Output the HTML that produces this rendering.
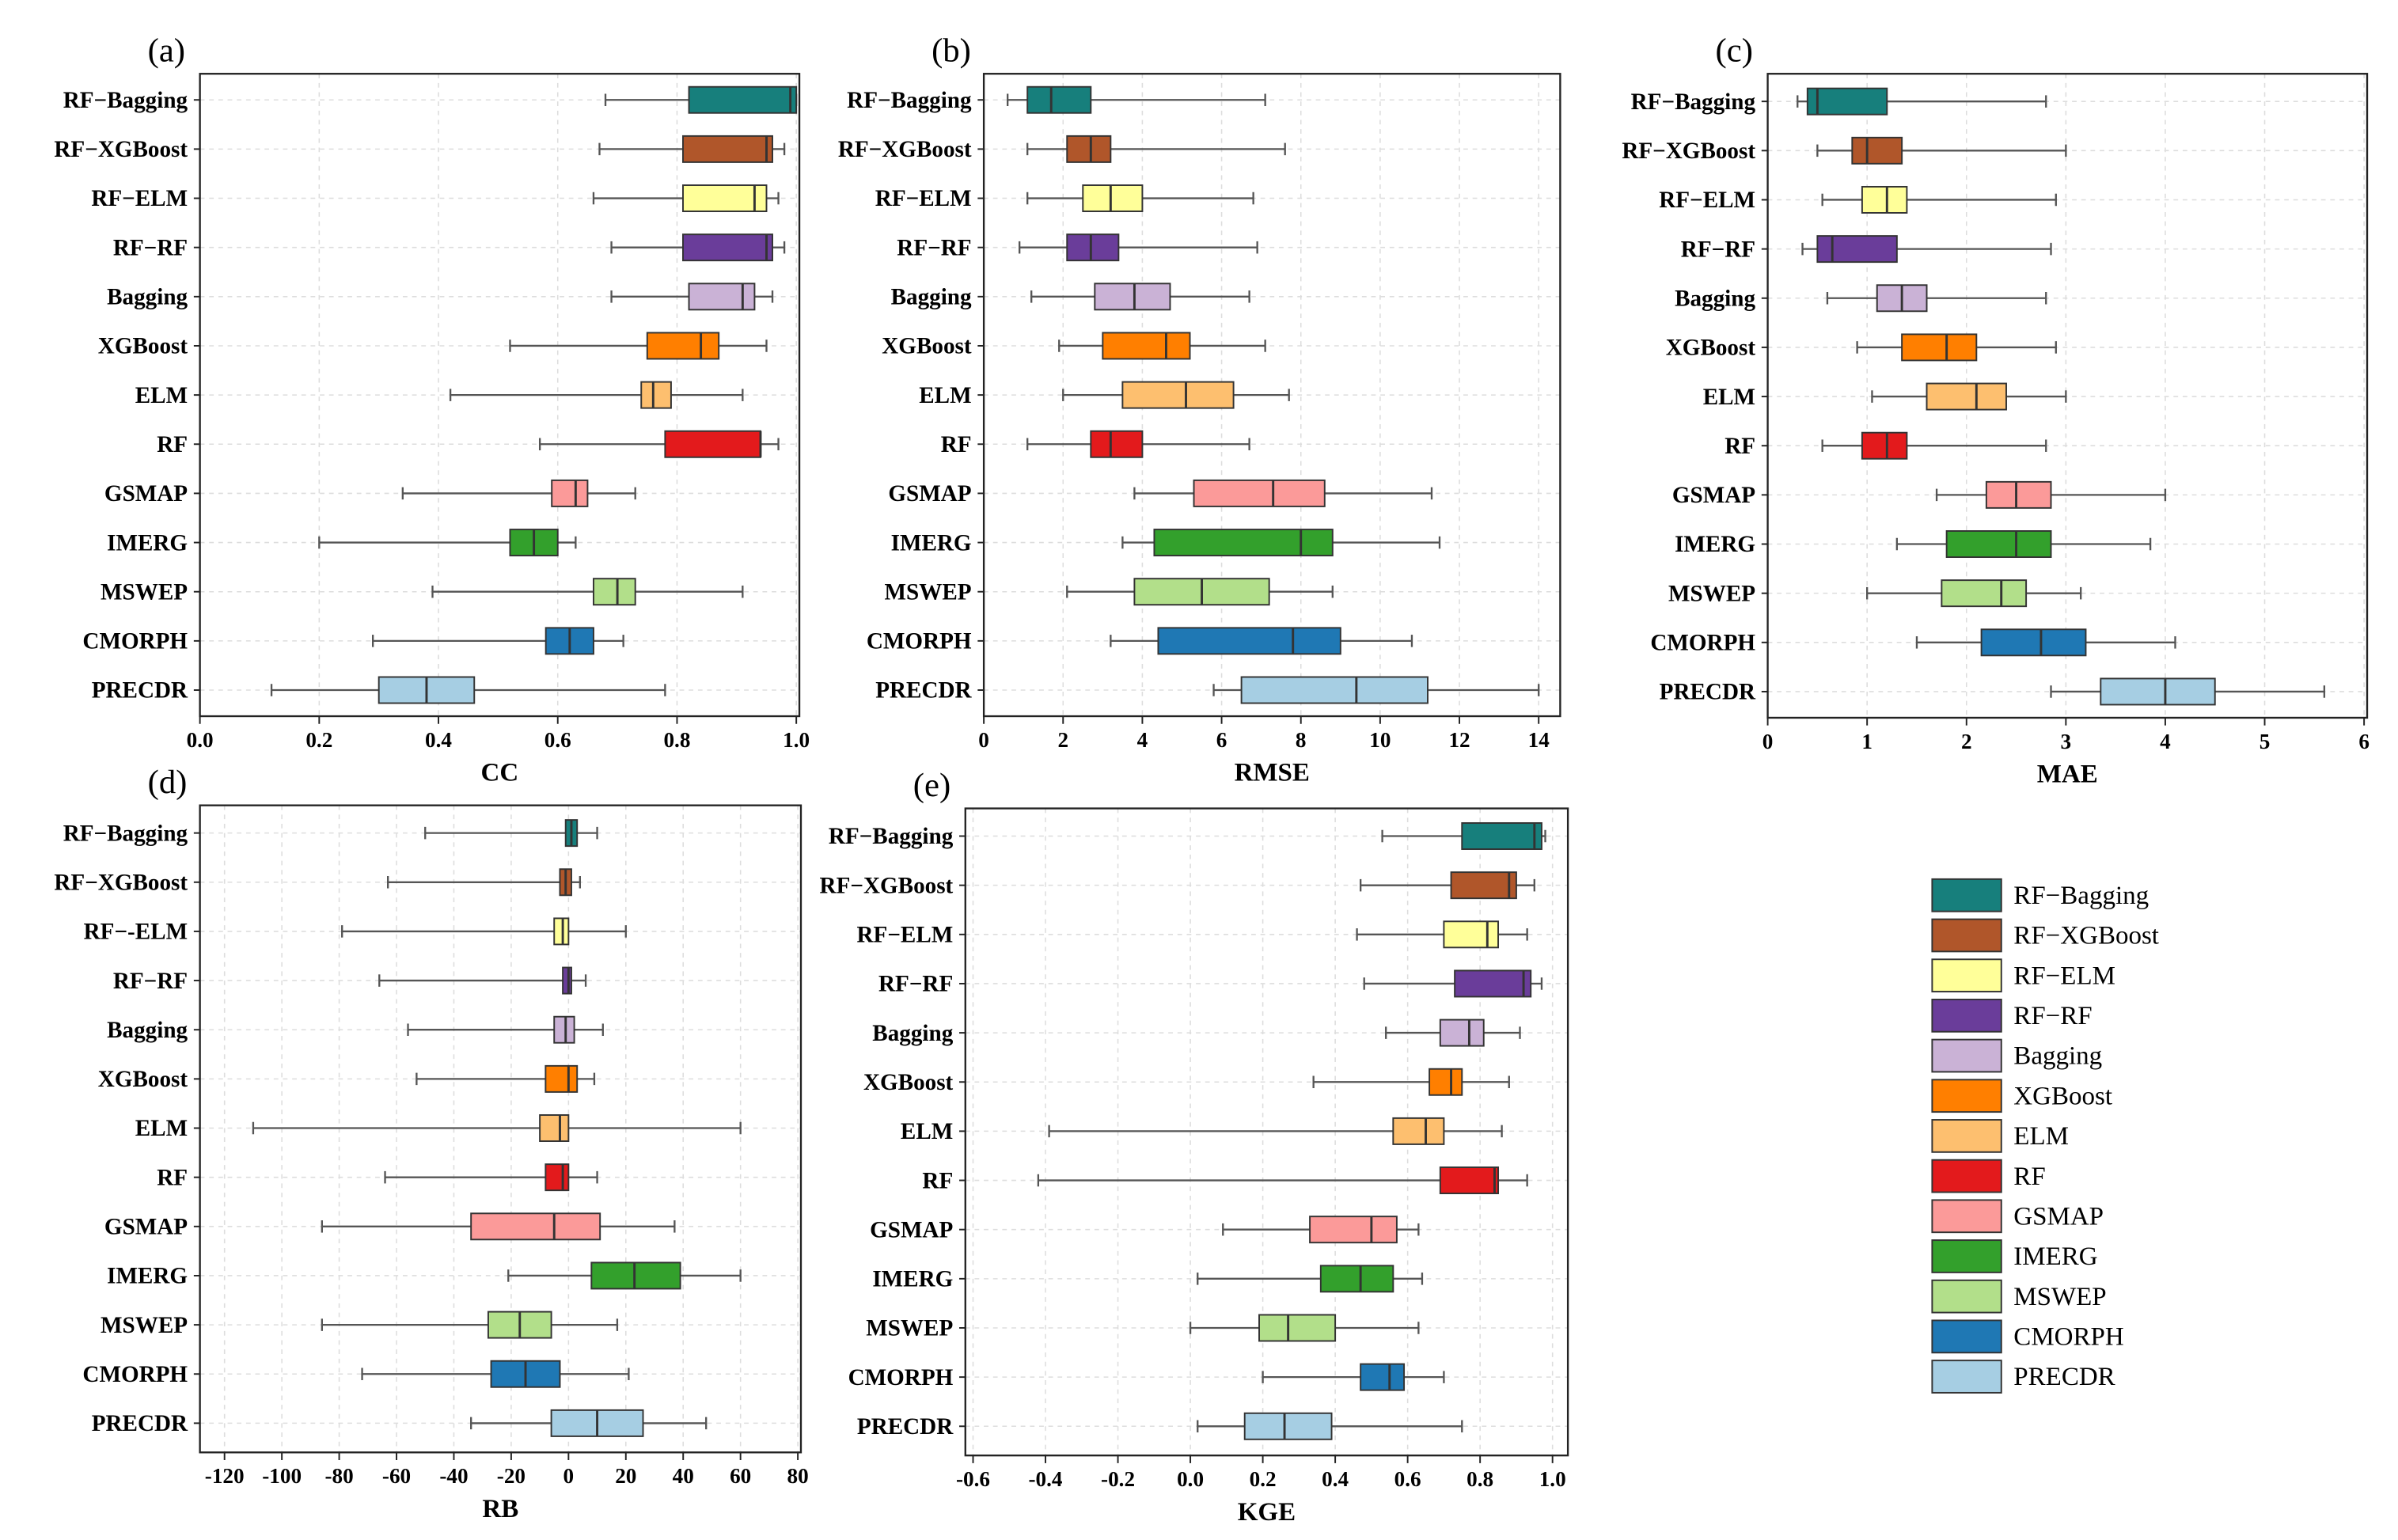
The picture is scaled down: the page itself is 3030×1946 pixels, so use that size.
<!DOCTYPE html>
<html><head><meta charset="utf-8">
<style>
html,body{margin:0;padding:0;background:#fff;}
svg{display:block;}
text{font-family:"Liberation Serif",serif;}
</style></head>
<body>
<svg id="chart" xmlns="http://www.w3.org/2000/svg" width="3030" height="1946" viewBox="0 0 1560 1002"></svg>
<script>
const categories = ["RF-Bagging","RF-XGBoost","RF-ELM","RF-RF","Bagging","XGBoost","ELM","RF","GSMAP","IMERG","MSWEP","CMORPH","PRECDR"];
const colors = ["#177f7c","#b0562a","#ffff99","#6a3d9a","#cab2d6","#ff7f00","#fdbf6f","#e31a1c","#fb9a99","#33a02c","#b2df8a","#1f78b4","#a6cee3"];
// [whiskerLow, q1, median, q3, whiskerHigh]
const ccValues = [[0.68,0.82,0.99,1.0,1.0],[0.67,0.81,0.95,0.96,0.98],[0.66,0.81,0.93,0.95,0.97],[0.69,0.81,0.95,0.96,0.98],[0.69,0.82,0.91,0.93,0.96],[0.52,0.75,0.84,0.87,0.95],[0.42,0.74,0.76,0.79,0.91],[0.57,0.78,0.94,0.94,0.97],[0.34,0.59,0.63,0.65,0.73],[0.20,0.52,0.56,0.60,0.63],[0.39,0.66,0.70,0.73,0.91],[0.29,0.58,0.62,0.66,0.71],[0.12,0.30,0.38,0.46,0.78]];
const rmseValues = [[0.6,1.1,1.7,2.7,7.1],[1.1,2.1,2.7,3.2,7.6],[1.1,2.5,3.2,4.0,6.8],[0.9,2.1,2.7,3.4,6.9],[1.2,2.8,3.8,4.7,6.7],[1.9,3.0,4.6,5.2,7.1],[2.0,3.5,5.1,6.3,7.7],[1.1,2.7,3.2,4.0,6.7],[3.8,5.3,7.3,8.6,11.3],[3.5,4.3,8.0,8.8,11.5],[2.1,3.8,5.5,7.2,8.8],[3.2,4.4,7.8,9.0,10.8],[5.8,6.5,9.4,11.2,14.0]];
const maeValues = [[0.3,0.4,0.5,1.2,2.8],[0.5,0.85,1.0,1.35,3.0],[0.55,0.95,1.2,1.4,2.9],[0.35,0.5,0.65,1.3,2.85],[0.6,1.1,1.35,1.6,2.8],[0.9,1.35,1.8,2.1,2.9],[1.05,1.6,2.1,2.4,3.0],[0.55,0.95,1.2,1.4,2.8],[1.7,2.2,2.5,2.85,4.0],[1.3,1.8,2.5,2.85,3.85],[1.0,1.75,2.35,2.6,3.15],[1.5,2.15,2.75,3.2,4.1],[2.85,3.35,4.0,4.5,5.6]];
const rbValues = [[-50,-1,1,3,10],[-63,-3,-1,1,4],[-79,-5,-2,0,20],[-66,-2,0,1,6],[-56,-5,-1,2,12],[-53,-8,0,3,9],[-110,-10,-3,0,60],[-64,-8,-2,0,10],[-86,-34,-5,11,37],[-21,8,23,39,60],[-86,-28,-17,-6,17],[-72,-27,-15,-3,21],[-34,-6,10,26,48]];
const kgeValues = [[0.53,0.75,0.95,0.97,0.98],[0.47,0.72,0.88,0.9,0.95],[0.46,0.70,0.82,0.85,0.93],[0.48,0.73,0.92,0.94,0.97],[0.54,0.69,0.77,0.81,0.91],[0.34,0.66,0.72,0.75,0.88],[-0.39,0.56,0.65,0.70,0.86],[-0.42,0.69,0.84,0.85,0.93],[0.09,0.33,0.50,0.57,0.63],[0.02,0.36,0.47,0.56,0.64],[0.00,0.19,0.27,0.40,0.63],[0.20,0.47,0.55,0.59,0.70],[0.02,0.15,0.26,0.39,0.75]];
const ccTicks = [0,0.2,0.4,0.6,0.8,1.0];
const ccTickLabels = ["0.0","0.2","0.4","0.6","0.8","1.0"];
const rmseTicks = [0,2,4,6,8,10,12,14];
const maeTicks = [0,1,2,3,4,5,6];
const rbTicks = [-120,-100,-80,-60,-40,-20,0,20,40,60,80];
const kgeTicks = [-0.6,-0.4,-0.2,0,0.2,0.4,0.6,0.8,1.0];
const kgeTickLabels = ["-0.6","-0.4","-0.2","0.0","0.2","0.4","0.6","0.8","1.0"];

const NS="http://www.w3.org/2000/svg";
const svg=document.getElementById('chart');
function mk(tag,attrs,parent){const e=document.createElementNS(NS,tag);for(const k in attrs)e.setAttribute(k,attrs[k]);(parent||svg).appendChild(e);return e;}

function panel(opt){
  const g=mk('g',{});
  
  
  const x=v=>opt.x0+(v-opt.vmin)/(opt.vmax-opt.vmin)*(opt.x1-opt.x0);
  const y=i=>opt.yFirst+i*opt.step;
  opt.ticks.forEach(t=>{const gl=mk('line',{x1:x(t),x2:x(t),y1:opt.top,y2:opt.bottom,stroke:'#ddd','stroke-dasharray':'3,3','stroke-width':0.8},g);
    });
  opt.labels.forEach((c,i)=>{mk('line',{x1:opt.left,x2:opt.right,y1:y(i),y2:y(i),stroke:'#ddd','stroke-dasharray':'3,3','stroke-width':0.8},g);});
  opt.values.forEach((d,i)=>{
    const yc=y(i),h=17;
    const w1=mk('line',{x1:x(d[0]),x2:x(d[1]),y1:yc,y2:yc,stroke:'#555','stroke-width':1.2},g);
    
    const w2=mk('line',{x1:x(d[3]),x2:x(d[4]),y1:yc,y2:yc,stroke:'#555','stroke-width':1.2},g);
    
    mk('line',{x1:x(d[0]),x2:x(d[0]),y1:yc-4,y2:yc+4,stroke:'#555','stroke-width':1.2},g);
    mk('line',{x1:x(d[4]),x2:x(d[4]),y1:yc-4,y2:yc+4,stroke:'#555','stroke-width':1.2},g);
    const b=mk('rect',{x:x(d[1]),y:yc-h/2,width:Math.max(1,x(d[3])-x(d[1])),height:h,fill:colors[i],stroke:'#333','stroke-width':1},g);
    
    const m=mk('line',{x1:x(d[2]),x2:x(d[2]),y1:yc-h/2,y2:yc+h/2,stroke:'#333','stroke-width':1.5},g);
    
  });
  const f=mk('rect',{x:opt.left,y:opt.top,width:opt.right-opt.left,height:opt.bottom-opt.top,fill:'none',stroke:'#222','stroke-width':1.2},g);
  
  opt.labels.forEach((c,i)=>{const t=mk('text',{x:opt.left-8,y:y(i)+5,'text-anchor':'end','font-size':15,'font-weight':'bold'},g);t.textContent=c;
    
    mk('line',{x1:opt.left-4,x2:opt.left,y1:y(i),y2:y(i),stroke:'#222'},g);});
  opt.ticks.forEach((t,i)=>{mk('line',{x1:x(t),x2:x(t),y1:opt.bottom,y2:opt.bottom+5,stroke:'#222'},g);
    const tl=mk('text',{x:x(t),y:opt.bottom+20,'text-anchor':'middle','font-size':14,'font-weight':'bold'},g);
    tl.textContent=opt.tickLabels?opt.tickLabels[i]:String(t);
    });
  const at=mk('text',{x:(opt.left+opt.right)/2,y:opt.bottom+42,'text-anchor':'middle','font-size':17,'font-weight':'bold'},g);
  at.textContent=opt.title;
  const pl=mk('text',{x:opt.left-34,y:opt.top-8,'font-size':22},g);
  pl.textContent='('+opt.id+')';
}
const labelsAll=categories.map(c=>c.replace('-','\u2212'));
const labelsRB=labelsAll.slice();labelsRB[2]="RF\u2212-ELM";
panel({id:'a',values:ccValues,labels:labelsAll,vmin:0,vmax:1,x0:130,x1:518,left:130,right:520,top:48,bottom:466,yFirst:65,step:32,ticks:ccTicks,tickLabels:ccTickLabels,title:'CC'});
panel({id:'b',values:rmseValues,labels:labelsAll,vmin:0,vmax:14,x0:640,x1:1001,left:640,right:1015,top:48,bottom:466,yFirst:65,step:32,ticks:rmseTicks,title:'RMSE'});
panel({id:'c',values:maeValues,labels:labelsAll,vmin:0,vmax:6,x0:1150,x1:1538,left:1150,right:1540,top:48,bottom:467,yFirst:66,step:32,ticks:maeTicks,title:'MAE'});
panel({id:'d',values:rbValues,labels:labelsRB,vmin:-120,vmax:80,x0:146,x1:519,left:130,right:521,top:524,bottom:945,yFirst:542,step:32,ticks:rbTicks,title:'RB'});
panel({id:'e',values:kgeValues,labels:labelsAll,vmin:-0.6,vmax:1.0,x0:633,x1:1010,left:628,right:1020,top:526,bottom:947,yFirst:544,step:32,ticks:kgeTicks,tickLabels:kgeTickLabels,title:'KGE'});
const lg=mk('g',{});


labelsAll.forEach((c,i)=>{
  const yy=582+i*26.1;
  const r=mk('rect',{x:1257,y:yy-10,width:45,height:21,fill:colors[i],stroke:'#333','stroke-width':1},lg);
  
  const t=mk('text',{x:1310,y:yy+6,'font-size':17},lg);t.textContent=c;
  
});
</script>
</body></html>
